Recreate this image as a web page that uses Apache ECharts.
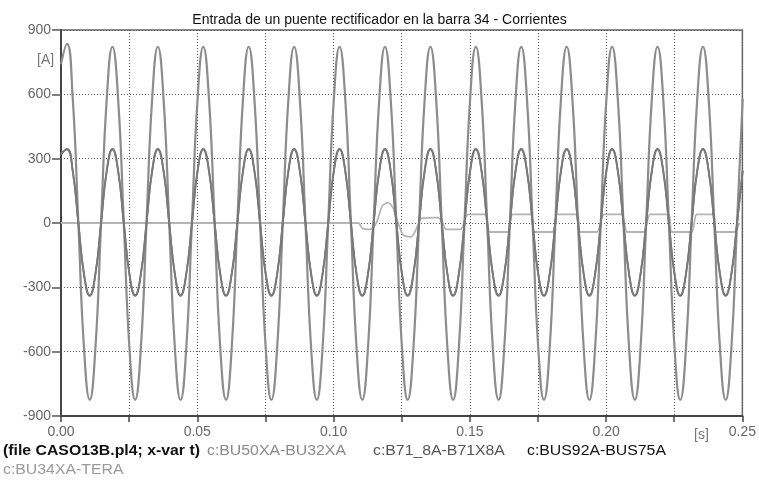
<!DOCTYPE html>
<html>
<head>
<meta charset="utf-8">
<script src="https://cdn.jsdelivr.net/npm/echarts@6/dist/echarts.min.js"></script>
<style>
  html, body { margin: 0; padding: 0; background: #fff; }
  #chart { width: 759px; height: 489px; }
</style>
</head>
<body>
<div id="chart"></div>
<script>
// Sample instants (s) for the three 60 Hz branch currents
const times = [
  0.00000, 0.00220, 0.00429, 0.00637, 0.00845, 0.01054, 0.01262, 0.01470,
  0.01679, 0.01887, 0.02095, 0.02304, 0.02512, 0.02720, 0.02929, 0.03137,
  0.03345, 0.03554, 0.03762, 0.03970, 0.04179, 0.04387, 0.04595, 0.04804,
  0.05012, 0.05220, 0.05429, 0.05637, 0.05845, 0.06054, 0.06262, 0.06470,
  0.06679, 0.06887, 0.07095, 0.07304, 0.07512, 0.07720, 0.07929, 0.08137,
  0.08345, 0.08554, 0.08762, 0.08970, 0.09179, 0.09387, 0.09595, 0.09804,
  0.10012, 0.10220, 0.10429, 0.10637, 0.10845, 0.11054, 0.11262, 0.11470,
  0.11679, 0.11887, 0.12095, 0.12304, 0.12512, 0.12720, 0.12929, 0.13137,
  0.13345, 0.13554, 0.13762, 0.13970, 0.14179, 0.14387, 0.14595, 0.14804,
  0.15012, 0.15220, 0.15429, 0.15637, 0.15845, 0.16054, 0.16262, 0.16470,
  0.16679, 0.16887, 0.17095, 0.17304, 0.17512, 0.17720, 0.17929, 0.18137,
  0.18345, 0.18554, 0.18762, 0.18970, 0.19179, 0.19387, 0.19595, 0.19804,
  0.20012, 0.20220, 0.20429, 0.20637, 0.20845, 0.21054, 0.21262, 0.21470,
  0.21679, 0.21887, 0.22095, 0.22304, 0.22512, 0.22720, 0.22929, 0.23137,
  0.23345, 0.23554, 0.23762, 0.23970, 0.24179, 0.24387, 0.24595, 0.24804,
  0.25012
];

// c:BU50XA-BU32XA  [A]
const bu50xa = [
  740, 835, 585, 0, -585, -825, -585, 0,
  580, 822, 580, 0, -585, -825, -585, 0,
  580, 822, 580, 0, -585, -825, -585, 0,
  580, 822, 580, 0, -585, -825, -585, 0,
  580, 822, 580, 0, -585, -825, -585, 0,
  580, 822, 580, 0, -585, -825, -585, 0,
  580, 822, 580, 0, -585, -825, -585, 0,
  580, 822, 580, 0, -585, -825, -585, 0,
  580, 822, 580, 0, -585, -825, -585, 0,
  580, 822, 580, 0, -585, -825, -585, 0,
  580, 822, 580, 0, -585, -825, -585, 0,
  580, 822, 580, 0, -585, -825, -585, 0,
  580, 822, 580, 0, -585, -825, -585, 0,
  580, 822, 580, 0, -585, -825, -585, 0,
  580, 822, 580, 0, -585, -825, -585, 0,
  580
];

// c:B71_8A-B71X8A  [A]
const b71x8a = [
  325, 342, 242, 0, -238, -336, -238, 0,
  242, 342, 242, 0, -238, -336, -238, 0,
  242, 342, 242, 0, -238, -336, -238, 0,
  242, 342, 242, 0, -238, -336, -238, 0,
  242, 342, 242, 0, -238, -336, -238, 0,
  242, 342, 242, 0, -238, -336, -238, 0,
  242, 342, 242, 0, -238, -336, -238, 0,
  242, 342, 242, 0, -238, -336, -238, 0,
  242, 342, 242, 0, -238, -336, -238, 0,
  242, 342, 242, 0, -238, -336, -238, 0,
  242, 342, 242, 0, -238, -336, -238, 0,
  242, 342, 242, 0, -238, -336, -238, 0,
  242, 342, 242, 0, -238, -336, -238, 0,
  242, 342, 242, 0, -238, -336, -238, 0,
  242, 342, 242, 0, -238, -336, -238, 0,
  242
];

// c:BUS92A-BUS75A  [A]
const bus92a = [
  320, 346, 245, 0, -240, -340, -240, 0,
  245, 346, 245, 0, -240, -340, -240, 0,
  245, 346, 245, 0, -240, -340, -240, 0,
  245, 346, 245, 0, -240, -340, -240, 0,
  245, 346, 245, 0, -240, -340, -240, 0,
  245, 346, 245, 0, -240, -340, -240, 0,
  245, 346, 245, 0, -240, -340, -240, 0,
  245, 346, 245, 0, -240, -340, -240, 0,
  245, 346, 245, 0, -240, -340, -240, 0,
  245, 346, 245, 0, -240, -340, -240, 0,
  245, 346, 245, 0, -240, -340, -240, 0,
  245, 346, 245, 0, -240, -340, -240, 0,
  245, 346, 245, 0, -240, -340, -240, 0,
  245, 346, 245, 0, -240, -340, -240, 0,
  245, 346, 245, 0, -240, -340, -240, 0,
  245
];

// c:BU34XA-TERA: rectifier input current, connected at about 0.11 s
const teraTimes = [
  0.0000, 0.1091, 0.1106, 0.1135, 0.1157, 0.1179, 0.1201, 0.1219, 0.1237,
  0.1255, 0.1285, 0.1303, 0.1321, 0.1383, 0.1401, 0.1412, 0.1467,
  0.1493, 0.1558, 0.1573, 0.1639, 0.1657, 0.1723, 0.1737, 0.1803,
  0.1821, 0.1894, 0.1905, 0.1967, 0.1993, 0.2058, 0.2077, 0.2139,
  0.2161, 0.2230, 0.2241, 0.2314, 0.2332, 0.2394, 0.2405, 0.2471, 0.2489
];
const teraValues = [
  0, 0, -25, -30, 0, 80, 95, 70, 0,
  -55, -65, -30, 22, 25, 0, -30, -30,
  40, 40, -42, -42, 40, 40, -42, -42,
  40, 40, -42, -42, 40, 40, -42, -42,
  40, 40, -42, -42, 40, 40, -42, -42, 0
];

// Axis ticks
const yTicks = [-900, -600, -300, 0, 300, 600, 900];
const xLabelTicks = [0.00, 0.05, 0.10, 0.15, 0.20, 0.25];

function pairs(xs, ys) { return xs.map((x, i) => [x, ys[i]]); }

const FONT = '"Liberation Sans", Arial, sans-serif';
const chart = echarts.init(document.getElementById('chart'), null, { renderer: 'canvas' });

// footer caption: file info and the four plotted variables
function caption(text, left, top, fill, weight) {
  return {
    type: 'text', x: left, y: top, scaleX: 1.13, scaleY: 1,
    style: { text: text, font: (weight || 'normal') + ' 14px ' + FONT, fill: fill }
  };
}

chart.setOption({
  animation: false,
  backgroundColor: '#ffffff',
  title: {
    text: 'Entrada de un puente rectificador en la barra 34 - Corrientes',
    left: 'center',
    top: 8,
    textStyle: { fontFamily: FONT, fontSize: 14, fontWeight: 'normal', color: '#111' }
  },
  grid: {
    left: 61, right: 16, top: 30, bottom: 73,
    show: true, borderColor: '#6a6a6a', borderWidth: 1.5
  },
  xAxis: {
    type: 'value',
    min: 0, max: 0.25, interval: 0.025,
    axisLine: { show: true, onZero: false, lineStyle: { color: '#444', width: 2 } },
    axisTick: { show: true, length: 6, lineStyle: { color: '#444', width: 1.5 } },
    splitLine: { show: true, lineStyle: { color: '#555', type: [1, 2], width: 1 } },
    axisLabel: {
      margin: 9,
      fontFamily: FONT, fontSize: 14, color: '#666',
      formatter: function (v) {
        const hit = xLabelTicks.find(t => Math.abs(t - v) < 1e-6);
        return hit === undefined ? '' : hit.toFixed(2);
      }
    }
  },
  yAxis: {
    type: 'value',
    min: yTicks[0], max: yTicks[yTicks.length - 1], interval: 300,
    axisLine: { show: true, onZero: false, lineStyle: { color: '#444', width: 2 } },
    axisTick: { show: true, length: 9, lineStyle: { color: '#555', width: 1.5 } },
    splitLine: { show: true, lineStyle: { color: '#555', type: [1, 2], width: 1 } },
    axisLabel: {
      margin: 10,
      fontFamily: FONT, fontSize: 14,
      color: function (v) { return v === 900 ? '#111' : '#666'; }
    }
  },
  graphic: [
    { type: 'text', x: 37, y: 53, style: { text: '[A]', font: '14px ' + FONT, fill: '#777' } },
    { type: 'text', x: 694, y: 428, style: { text: '[s]', font: '14px ' + FONT, fill: '#777' } },
    caption('(file CASO13B.pl4; x-var t)', 3, 444, '#111', 'bold'),
    caption('c:BU50XA-BU32XA', 207, 444, '#8a8a8a'),
    caption('c:B71_8A-B71X8A', 373, 444, '#555'),
    caption('c:BUS92A-BUS75A', 527, 444, '#111'),
    caption('c:BU34XA-TERA', 3, 463, '#9a9a9a')
  ],
  series: [
    {
      name: 'c:BU34XA-TERA', type: 'line', data: pairs(teraTimes, teraValues),
      showSymbol: false, smooth: 0.2,
      lineStyle: { color: '#b4b4b4', width: 1.8 }, z: 2
    },
    {
      name: 'c:BU50XA-BU32XA', type: 'line', data: pairs(times, bu50xa),
      showSymbol: false, smooth: 0.5,
      lineStyle: { color: '#8c8c8c', width: 2.2 }, z: 3
    },
    {
      name: 'c:BUS92A-BUS75A', type: 'line', data: pairs(times, bus92a),
      showSymbol: false, smooth: 0.5,
      lineStyle: { color: '#6f6f6f', width: 1.8 }, z: 4
    },
    {
      name: 'c:B71_8A-B71X8A', type: 'line', data: pairs(times, b71x8a),
      showSymbol: false, smooth: 0.5,
      lineStyle: { color: '#7a7a7a', width: 1.8 }, z: 5
    }
  ]
});
</script>
</body>
</html>
